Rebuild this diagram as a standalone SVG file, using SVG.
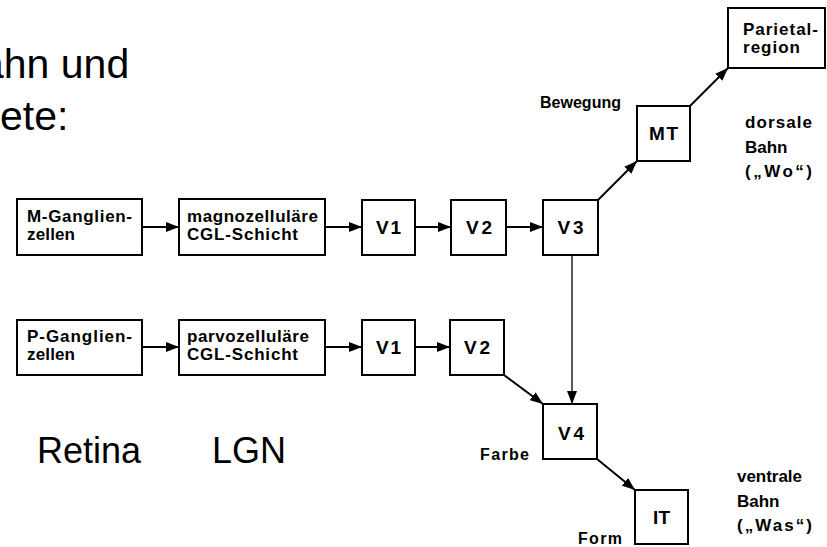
<svg xmlns="http://www.w3.org/2000/svg" width="827" height="547" viewBox="0 0 827 547">
<style>
.box{fill:#fff;stroke:#000;stroke-width:2}
.t{font-family:"Liberation Sans",Arial,sans-serif;font-weight:bold;font-size:17px;fill:#000}
.l{font-family:"Liberation Sans",Arial,sans-serif;font-weight:bold;font-size:16px;fill:#000}
.v{font-family:"Liberation Sans",Arial,sans-serif;font-weight:bold;font-size:19px;fill:#000;text-anchor:middle}
.big{font-family:"Liberation Sans",Arial,sans-serif;fill:#000}
.ln{stroke:#000;stroke-width:2;fill:none;marker-end:url(#ah)}
.thin{stroke:#000;stroke-width:1.3;fill:none;marker-end:url(#ah)}
</style>
<defs>
<marker id="ah" markerUnits="userSpaceOnUse" markerWidth="13" markerHeight="10" refX="13" refY="5" orient="auto">
<path d="M0,0 L13,5 L0,10 z" fill="#000"/>
</marker>
</defs>
<rect width="827" height="547" fill="#fff"/>

<g id="title">
<text class="big" x="-19" y="78" font-size="41">ahn und</text>
<text class="big" x="0" y="130" font-size="41">ete:</text>
</g>
<g id="regions">
<text class="big" x="37" y="463" font-size="36">Retina</text>
<text class="big" x="212" y="463" font-size="36">LGN</text>
</g>

<g id="connectors">
<line class="ln" x1="142" y1="227" x2="179" y2="227"/>
<line class="ln" x1="325" y1="227" x2="362" y2="227"/>
<line class="ln" x1="415" y1="227" x2="451" y2="227"/>
<line class="ln" x1="506" y1="227" x2="543" y2="227"/>
<line class="ln" x1="142" y1="347" x2="179" y2="347"/>
<line class="ln" x1="325" y1="347" x2="362" y2="347"/>
<line class="ln" x1="415" y1="347" x2="450" y2="347"/>
<line class="ln" x1="598" y1="200" x2="637" y2="161"/>
<line class="ln" x1="690" y1="106" x2="728" y2="68"/>
<line class="thin" x1="572" y1="255" x2="572" y2="404"/>
<line class="ln" x1="504" y1="375" x2="543" y2="404"/>
<line class="ln" x1="597" y1="459" x2="635" y2="490"/>
</g>

<g id="m-ganglien">
<rect class="box" x="17" y="199" width="125" height="56"/>
<text class="t" x="27" y="222" textLength="105" lengthAdjust="spacing">M-Ganglien-</text>
<text class="t" x="27" y="240" textLength="48" lengthAdjust="spacing">zellen</text>
</g>
<g id="magno">
<rect class="box" x="179" y="199" width="146" height="56"/>
<text class="t" x="187" y="222" textLength="131" lengthAdjust="spacing">magnozelluläre</text>
<text class="t" x="187" y="240" textLength="111" lengthAdjust="spacing">CGL-Schicht</text>
</g>
<g id="v1-top">
<rect class="box" x="362" y="200" width="53" height="55"/>
<text class="v" x="388.5" y="234" textLength="25" lengthAdjust="spacing">V1</text>
</g>
<g id="v2-top">
<rect class="box" x="451" y="200" width="55" height="55"/>
<text class="v" x="479" y="234" textLength="26" lengthAdjust="spacing">V2</text>
</g>
<g id="v3">
<rect class="box" x="543" y="200" width="55" height="55"/>
<text class="v" x="570.5" y="234" textLength="26" lengthAdjust="spacing">V3</text>
</g>
<g id="mt">
<rect class="box" x="637" y="106" width="53" height="55"/>
<text class="v" x="663.5" y="140" textLength="29" lengthAdjust="spacing">MT</text>
</g>
<g id="parietal">
<rect class="box" x="728" y="8" width="97" height="60"/>
<text class="t" x="743" y="35" textLength="75" lengthAdjust="spacing">Parietal-</text>
<text class="t" x="743" y="53" textLength="57" lengthAdjust="spacing">region</text>
</g>
<g id="p-ganglien">
<rect class="box" x="17" y="320" width="125" height="55"/>
<text class="t" x="27" y="342" textLength="105" lengthAdjust="spacing">P-Ganglien-</text>
<text class="t" x="27" y="360" textLength="48" lengthAdjust="spacing">zellen</text>
</g>
<g id="parvo">
<rect class="box" x="179" y="320" width="146" height="55"/>
<text class="t" x="187" y="342" textLength="122" lengthAdjust="spacing">parvozelluläre</text>
<text class="t" x="187" y="360" textLength="111" lengthAdjust="spacing">CGL-Schicht</text>
</g>
<g id="v1-bottom">
<rect class="box" x="362" y="320" width="53" height="55"/>
<text class="v" x="388.5" y="354" textLength="25" lengthAdjust="spacing">V1</text>
</g>
<g id="v2-bottom">
<rect class="box" x="450" y="320" width="54" height="55"/>
<text class="v" x="477" y="354" textLength="26" lengthAdjust="spacing">V2</text>
</g>
<g id="v4">
<rect class="box" x="543" y="404" width="54" height="55"/>
<text class="v" x="571" y="440" textLength="26" lengthAdjust="spacing">V4</text>
</g>
<g id="it">
<rect class="box" x="635" y="490" width="53" height="54"/>
<text class="v" x="661.5" y="524" textLength="17" lengthAdjust="spacing">IT</text>
</g>

<g id="labels">
<text class="l" x="540" y="108" textLength="81" lengthAdjust="spacing">Bewegung</text>
<text class="t" x="745" y="128" textLength="67" lengthAdjust="spacing">dorsale</text>
<text class="t" x="745" y="153">Bahn</text>
<text class="t" x="745" y="177" font-size="18" textLength="67" lengthAdjust="spacing">(„Wo“)</text>
<text class="l" x="480" y="460" textLength="49" lengthAdjust="spacing">Farbe</text>
<text class="l" x="578" y="544" textLength="44" lengthAdjust="spacing">Form</text>
<text class="t" x="737" y="482" textLength="65" lengthAdjust="spacing">ventrale</text>
<text class="t" x="737" y="507">Bahn</text>
<text class="t" x="737" y="531" font-size="18" textLength="75" lengthAdjust="spacing">(„Was“)</text>
</g>
</svg>
